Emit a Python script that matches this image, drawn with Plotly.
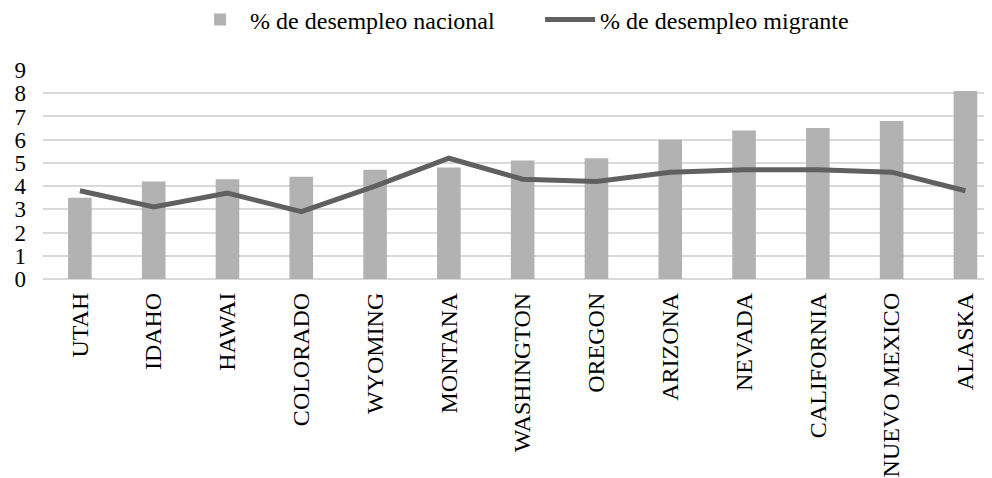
import plotly.graph_objects as go

estados = ["UTAH", "IDAHO", "HAWAI", "COLORADO", "WYOMING", "MONTANA", "WASHINGTON",
           "OREGON", "ARIZONA", "NEVADA", "CALIFORNIA", "NUEVO MEXICO", "ALASKA"]
desempleo_nacional = [3.5, 4.2, 4.3, 4.4, 4.7, 4.8, 5.1, 5.2, 6.0, 6.4, 6.5, 6.8, 8.1]
desempleo_migrante = [3.8, 3.1, 3.7, 2.9, 4.0, 5.2, 4.3, 4.2, 4.6, 4.7, 4.7, 4.6, 3.8]
y_ticks = list(range(0, 10))

FONT = "Liberation Serif, Times New Roman, serif"

fig = go.Figure()
fig.add_trace(go.Bar(x=estados, y=desempleo_nacional, name="% de desempleo nacional",
                     marker=dict(color="#b2b2b2", line=dict(width=0)), width=0.32))
fig.add_trace(go.Scatter(x=estados, y=desempleo_migrante, name="% de desempleo migrante",
                         mode="lines", line=dict(color="#606060", width=5)))

# page body has an 8px margin, so the figure is sized/offset to compensate
fig.update_layout(
    width=984, height=470,
    margin=dict(l=35, r=0, t=62, b=199, autoexpand=False),
    paper_bgcolor="white", plot_bgcolor="white",
    font=dict(family=FONT, size=24, color="black"),
    legend=dict(orientation="h", x=0.155, xanchor="left", y=1.24, yanchor="middle",
                yref="paper", font=dict(size=24, family=FONT, color="black"), itemwidth=50,
                entrywidth=285, entrywidthmode="pixels",
                tracegroupgap=0, bgcolor="rgba(0,0,0,0)"),
    showlegend=True,
)
fig.update_xaxes(range=[-0.5, 12.36], tickangle=-90, showgrid=False, showline=False,
                 ticks="", automargin=False, ticklabelstandoff=8,
                 tickfont=dict(size=24, family=FONT, color="black"))
fig.update_yaxes(range=[0, 9], tickvals=y_ticks, showgrid=True, gridcolor="#d9d9d9",
                 gridwidth=1.5, zeroline=True, zerolinecolor="#d9d9d9", zerolinewidth=1.5,
                 ticks="", automargin=False, ticklabelstandoff=16,
                 tickfont=dict(size=23, family=FONT, color="black"))

fig.write_html("out.html")
